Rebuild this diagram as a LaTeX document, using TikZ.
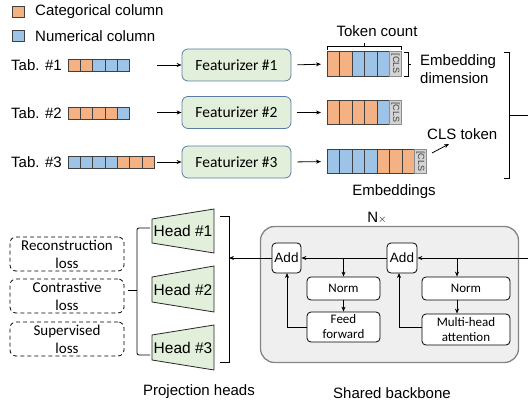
\documentclass[tikz,border=0pt]{standalone}
\usepackage{fontspec}
\setmainfont{Liberation Sans}
\newfontfamily\calib{Carlito}
\usetikzlibrary{arrows.meta}
\definecolor{org}{HTML}{F4B183}
\definecolor{blu}{HTML}{9DC3E6}
\definecolor{cellb}{HTML}{404040}
\definecolor{clsf}{HTML}{D4D4D4}
\definecolor{clsb}{HTML}{8C8C8C}
\definecolor{featf}{HTML}{E2EFDA}
\definecolor{featb}{HTML}{5A7BA8}
\definecolor{bbf}{HTML}{EFEFEF}
\definecolor{bbb}{HTML}{858585}
\begin{document}
\begin{tikzpicture}[x=1pt,y=-1pt,
  arr/.style={-{Stealth[length=5pt,width=4pt]},line width=0.8pt},
  ln/.style={line width=0.8pt},
  txt/.style={font=\fontsize{15}{18}\selectfont, inner sep=0pt},
  feat/.style={draw=featb, fill=featf, rounded corners=6pt, line width=0.8pt, minimum width=109pt, minimum height=32pt, inner sep=0pt, font=\calib\fontsize{15.5}{18}\selectfont},
  blk/.style={draw=black, fill=white, rounded corners=4pt, line width=0.8pt, inner sep=0pt, align=center, font=\calib\fontsize{13}{15}\selectfont},
  loss/.style={draw=black, dash pattern=on 4pt off 3pt, rounded corners=6pt, line width=0.8pt, minimum width=114pt, minimum height=34pt, align=center, font=\calib\fontsize{15}{18}\selectfont, inner sep=0pt},
  tabcell/.style={draw=cellb, line width=0.6pt},
  headshape/.style={draw=black!85, fill=featf, line width=0.8pt},
  clstxt/.style={rotate=-90, font=\fontsize{9}{9}\selectfont, text=black!75, inner sep=0pt},
  ghost/.style={inner sep=0pt, outer sep=0pt, draw=none}
]
\useasboundingbox (0,0) rectangle (528,404);

% legend
\filldraw[tabcell, fill=org] (12,6) rectangle (24,17);
\node[txt, anchor=west] (legc) at (35,12) {Categorical column};
\filldraw[tabcell, fill=blu] (12,30) rectangle (24,41);
\node[txt, anchor=west] (legn) at (35,36) {Numerical column};

% tables
\node[txt, anchor=west] (tab1) at (11,65) {Tab. \#1};
\node[txt, anchor=west] (tab2) at (11,113) {Tab. \#2};
\node[txt, anchor=west] (tab3) at (11,162) {Tab. \#3};
\foreach \c [count=\i from 0] in {org,org,blu,blu,blu}
  \filldraw[tabcell, fill=\c] (68+\i*12.3,59) rectangle ++(12.3,12);
\foreach \c [count=\i from 0] in {org,org,org,org,blu}
  \filldraw[tabcell, fill=\c] (68+\i*12.3,107) rectangle ++(12.3,12);
\foreach \c [count=\i from 0] in {blu,blu,blu,blu,org,org,org}
  \filldraw[tabcell, fill=\c] (68+\i*12.3,156) rectangle ++(12.3,12);

% featurizers
\node[feat] (f1) at (236.5,65) {Featurizer \#1};
\node[feat] (f2) at (236.5,112.5) {Featurizer \#2};
\node[feat] (f3) at (236.5,162) {Featurizer \#3};
\coordinate (t1) at (157,65);
\coordinate (t2) at (157,112.5);
\coordinate (t3) at (157,162);
\draw[arr] (t1) -- (f1.west);
\draw[arr] (t2) -- (f2.west);
\draw[arr] (t3) -- (f3.west);

% embeddings
\node[ghost, minimum width=74.5pt, minimum height=24.5pt, anchor=west] (e1) at (327,64) {};
\node[ghost, minimum width=74.5pt, minimum height=24.5pt, anchor=west] (e2) at (327,112.5) {};
\node[ghost, minimum width=99.5pt, minimum height=24.5pt, anchor=west] (e3) at (327,161.5) {};
\foreach \c [count=\i from 0] in {org,org,blu,blu,blu}
  \filldraw[tabcell, fill=\c] (327+\i*12.5,51.75) rectangle ++(12.5,24.5);
\filldraw[draw=clsb, fill=clsf, line width=0.6pt] (389.5,51.75) rectangle ++(12,24.5);
\node[clstxt] (cls1) at (395.5,64) {[CLS};
\foreach \c [count=\i from 0] in {org,org,org,org,blu}
  \filldraw[tabcell, fill=\c] (327+\i*12.5,100.25) rectangle ++(12.5,24.5);
\filldraw[draw=clsb, fill=clsf, line width=0.6pt] (389.5,100.25) rectangle ++(12,24.5);
\node[clstxt] (cls2) at (395.5,112.5) {[CLS};
\foreach \c [count=\i from 0] in {blu,blu,blu,blu,org,org,org}
  \filldraw[tabcell, fill=\c] (327+\i*12.5,149.25) rectangle ++(12.5,24.5);
\filldraw[draw=clsb, fill=clsf, line width=0.6pt] (414.5,149.25) rectangle ++(12,24.5);
\node[clstxt] (cls3) at (420.5,161.5) {[CLS};

\draw[arr, shorten <=6pt, shorten >=6pt] (f1.east) -- (e1.west);
\draw[arr, shorten <=6pt, shorten >=6pt] (f2.east) -- (e2.west);
\draw[arr, shorten <=6pt, shorten >=6pt] (f3.east) -- (e3.west);

% token count brace
\draw[ln] (327,50) -- (327,46) -- (401,46) -- (401,50);
\draw[ln] (364,46) -- (364,43);
\node[txt] (tokc) at (377,31) {Token count};
% embedding dimension brace
\draw[ln] (404,52) -- (408,52) -- (408,76) -- (404,76);
\draw[ln] (408,64) -- (411,64);
\node[txt, anchor=west, align=left] (embd) at (420,69) {Embedding\\dimension};
% CLS token
\node[txt, anchor=west] (clstok) at (427,134) {CLS token};
\coordinate (clsa) at (432,153);
\coordinate (clsb) at (449,144);
\draw[arr] (clsa) -- (clsb);
\node[txt] (embs) at (394,192) {Embeddings};

% big brace
\draw[ln] (504,52) -- (509,52) -- (509,178) -- (504,178);
\coordinate (rb) at (528,115);
\draw[ln] (509,115) -- (rb);

% backbone
\node[draw=bbb, fill=bbf, line width=1.3pt, rounded corners=14pt, minimum width=258pt, minimum height=136pt, inner sep=0pt] (bb) at (389.5,294.5) {};
\node[txt] (nx) at (377,218) {N\fontsize{11}{11}\selectfont$\times$};
\node[blk, minimum width=29pt, minimum height=30pt, font=\fontsize{13.5}{15}\selectfont] (add1) at (286.5,258) {Add};
\node[blk, minimum width=30pt, minimum height=30pt, font=\fontsize{13.5}{15}\selectfont] (add2) at (402,258) {Add};
\node[blk, minimum width=73pt, minimum height=23pt] (norm1) at (343.5,288.5) {Norm};
\node[blk, minimum width=73pt, minimum height=30pt] (ff) at (343.5,327) {Feed\\forward};
\node[blk, minimum width=88pt, minimum height=23pt] (norm2) at (466,288.5) {Norm};
\node[blk, minimum width=88pt, minimum height=31pt] (mha) at (466,329.5) {Multi-head\\attention};

\coordinate (inr) at (528,258);
\coordinate (br2) at (457,258);
\coordinate (br1) at (343.5,258);
\draw[arr] (inr) -- (add2.east);
\draw[arr] (br2) -- (br2 |- norm2.north);
\draw[arr] (br2 |- norm2.south) -- (br2 |- mha.north);
\draw[arr] (mha.west |- 0,327) -- (399,327) -- (399,273);
\draw[arr] (add2.west) -- (add1.east);
\draw[arr] (br1) -- (norm1.north);
\draw[arr] (norm1.south) -- (ff.north);
\draw[arr] (ff.west) -- (287,327) -- (287,273);
\coordinate (hb) at (229,258);
\draw[arr] (add1.west) -- (hb);

% heads bracket
\draw[ln] (220,216) -- (229,216) -- (229,362) -- (220,362);

% heads
\draw[headshape] (152,219) -- (214,209) -- (214,253) -- (152,243) -- cycle;
\draw[headshape] (152,277) -- (214,266) -- (214,312) -- (152,302) -- cycle;
\draw[headshape] (152,335) -- (214,325) -- (214,370) -- (152,360) -- cycle;
\node[txt, font=\fontsize{15.5}{18}\selectfont] (h1) at (183,231) {Head \#1};
\node[txt, font=\fontsize{15.5}{18}\selectfont] (h2) at (183,289.5) {Head \#2};
\node[txt, font=\fontsize{15.5}{18}\selectfont] (h3) at (183,347.5) {Head \#3};

% left bracket
\draw[ln, rounded corners=2pt] (150,228) -- (137,228) -- (137,355) -- (150,355);
\draw[ln] (137,290) -- (128,290);

% losses
\node[loss] (l1) at (67,254) {Reconstruction\\loss};
\node[loss] (l2) at (67,296) {Contrastive\\loss};
\node[loss] (l3) at (67,339) {Supervised\\loss};

% bottom labels
\node[txt] (proj) at (199,392) {Projection heads};
\node[txt] (shb) at (392,393) {Shared backbone};
\end{tikzpicture}
\end{document}
